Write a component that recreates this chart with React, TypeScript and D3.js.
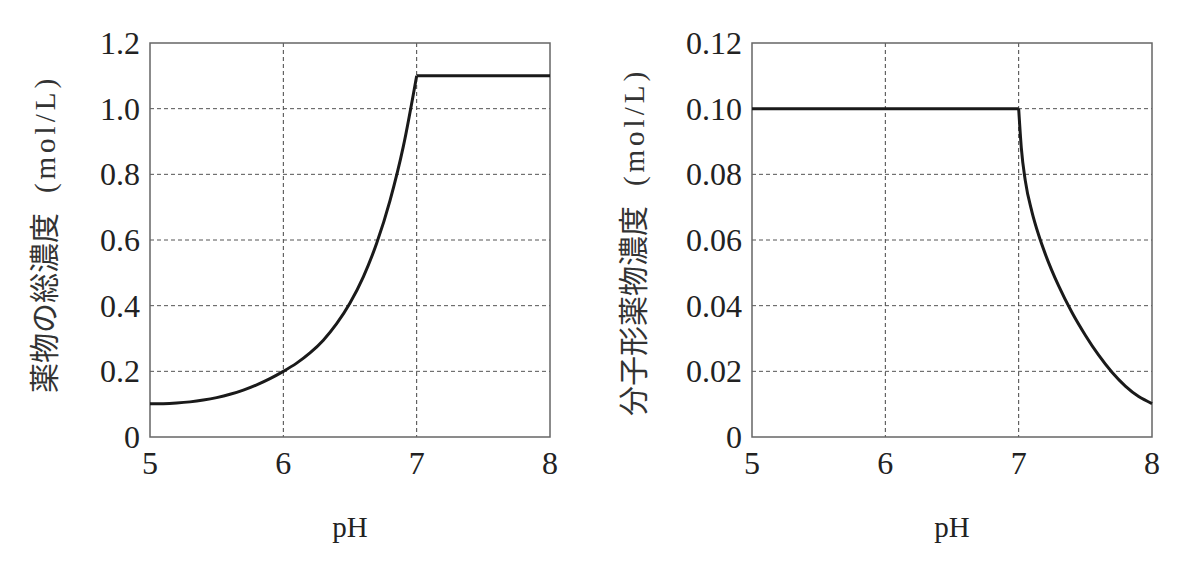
import { useRef, useEffect } from 'react';
import * as d3 from 'd3';

// x axis (shared)
const phTicks = [5, 6, 7, 8];

// left panel: total drug concentration
const totalTicks = [0, 0.2, 0.4, 0.6, 0.8, 1.0, 1.2];
const totalTickLabels = ['0', '0.2', '0.4', '0.6', '0.8', '1.0', '1.2'];
const totalRisePH = [5.0, 5.1, 5.2, 5.3, 5.4, 5.5, 5.6, 5.7, 5.8, 5.9, 6.0, 6.1, 6.2, 6.3, 6.4, 6.5, 6.6, 6.7, 6.8, 6.9, 7.0];
const totalRiseConc = [0.101, 0.1015, 0.1035, 0.107, 0.1125, 0.120, 0.130, 0.143, 0.159, 0.178, 0.200, 0.225, 0.256, 0.295, 0.345, 0.408, 0.488, 0.590, 0.720, 0.885, 1.100];
const totalPlateauPH = [7.0, 8.0];
const totalPlateauConc = [1.1, 1.1];

// right panel: molecular-form drug concentration
const molTicks = [0, 0.02, 0.04, 0.06, 0.08, 0.10, 0.12];
const molTickLabels = ['0', '0.02', '0.04', '0.06', '0.08', '0.10', '0.12'];
const molPlateauPH = [5.0, 7.0];
const molPlateauConc = [0.1, 0.1];
const molDecayPH = [7.0, 7.02, 7.05, 7.1, 7.15, 7.2, 7.3, 7.4, 7.5, 7.6, 7.7, 7.8, 7.9, 8.0];
const molDecayConc = [0.100, 0.088, 0.078, 0.0685, 0.0615, 0.0557, 0.0460, 0.0379, 0.0310, 0.0249, 0.0197, 0.0155, 0.0123, 0.0102];

const SERIF = '"Liberation Serif", "DejaVu Serif", serif';
const CJK = '"Noto Sans CJK JP", sans-serif';

interface PanelOpts {
    left: number;
    right: number;
    yTicks: number[];
    yLabels: string[];
    segments: { ph: number[]; conc: number[]; smooth: boolean }[];
    title: string;
    titleX: number;
    titleY: number;
}

const top = 43;
const bottom = 437;

function drawPanel(svg: d3.Selection<SVGSVGElement, unknown, null, undefined>, o: PanelOpts) {
    const x = d3.scaleLinear().domain([5, 8]).range([o.left, o.right]);
    const y = d3.scaleLinear().domain([0, o.yTicks[o.yTicks.length - 1]]).range([bottom, top]);
    const g = svg.append('g');

    // dashed grid
    g.selectAll('line.vg')
        .data(phTicks.slice(1, -1))
        .enter().append('line')
        .attr('x1', d => x(d)).attr('x2', d => x(d))
        .attr('y1', top).attr('y2', bottom)
        .attr('stroke', '#444').attr('stroke-width', 1).attr('stroke-dasharray', '4,3');
    g.selectAll('line.hg')
        .data(o.yTicks.slice(1, -1))
        .enter().append('line')
        .attr('x1', o.left).attr('x2', o.right)
        .attr('y1', d => y(d)).attr('y2', d => y(d))
        .attr('stroke', '#555').attr('stroke-width', 1).attr('stroke-dasharray', '4,3');

    // frame
    g.append('rect')
        .attr('x', o.left).attr('y', top)
        .attr('width', o.right - o.left).attr('height', bottom - top)
        .attr('fill', 'none').attr('stroke', '#666').attr('stroke-width', 1.5);

    // curves
    o.segments.forEach(s => {
        const pts = s.ph.map((p, i) => [p, s.conc[i]] as [number, number]);
        const line = d3.line<[number, number]>()
            .x(d => x(d[0]))
            .y(d => y(d[1]))
            .curve(s.smooth ? d3.curveMonotoneX : d3.curveLinear);
        g.append('path')
            .datum(pts)
            .attr('fill', 'none')
            .attr('stroke', '#1a1a1a')
            .attr('stroke-width', 3)
            .attr('d', line);
    });

    // tick labels
    g.selectAll('text.xt')
        .data(phTicks)
        .enter().append('text')
        .attr('x', d => x(d)).attr('y', 474)
        .attr('text-anchor', 'middle')
        .style('font-family', SERIF).style('font-size', '32px').attr('fill', '#222')
        .text(d => String(d));
    g.selectAll('text.yt')
        .data(o.yTicks)
        .enter().append('text')
        .attr('x', o.left - 10).attr('y', d => y(d))
        .attr('dy', '0.34em')
        .attr('text-anchor', 'end')
        .style('font-family', SERIF).style('font-size', '32px').attr('fill', '#222')
        .text((d, i) => o.yLabels[i]);

    // axis titles
    g.append('text')
        .attr('x', (o.left + o.right) / 2).attr('y', 537)
        .attr('text-anchor', 'middle')
        .style('font-family', SERIF).style('font-size', '29px').attr('fill', '#222')
        .text('pH');

    const t = g.append('text')
        .attr('transform', `translate(${o.titleX},${o.titleY}) rotate(-90)`)
        .attr('text-anchor', 'middle')
        .attr('dy', '0.36em')
        .attr('fill', '#333');
    t.append('tspan').style('font-family', CJK).style('font-size', '30px').text(o.title);
    t.append('tspan').attr('dx', 20)
        .style('font-family', SERIF).style('font-size', '29px').style('letter-spacing', '4px')
        .text('(mol/L)');
}

export default function App() {
    const svgRef = useRef<SVGSVGElement | null>(null);

    useEffect(() => {
        document.body.style.margin = '0';
        if (!svgRef.current) return;
        const svg = d3.select(svgRef.current);
        svg.selectAll('*').remove();

        drawPanel(svg, {
            left: 150, right: 550,
            yTicks: totalTicks, yLabels: totalTickLabels,
            segments: [
                { ph: totalRisePH, conc: totalRiseConc, smooth: true },
                { ph: totalPlateauPH, conc: totalPlateauConc, smooth: false },
            ],
            title: '薬物の総濃度',
            titleX: 49, titleY: 234,
        });

        drawPanel(svg, {
            left: 752, right: 1152,
            yTicks: molTicks, yLabels: molTickLabels,
            segments: [
                { ph: molPlateauPH, conc: molPlateauConc, smooth: false },
                { ph: molDecayPH, conc: molDecayConc, smooth: true },
            ],
            title: '分子形薬物濃度',
            titleX: 638, titleY: 242,
        });
    }, []);

    return <svg ref={svgRef} width={1197} height={567} style={{ display: 'block', background: '#fff' }} />;
}
